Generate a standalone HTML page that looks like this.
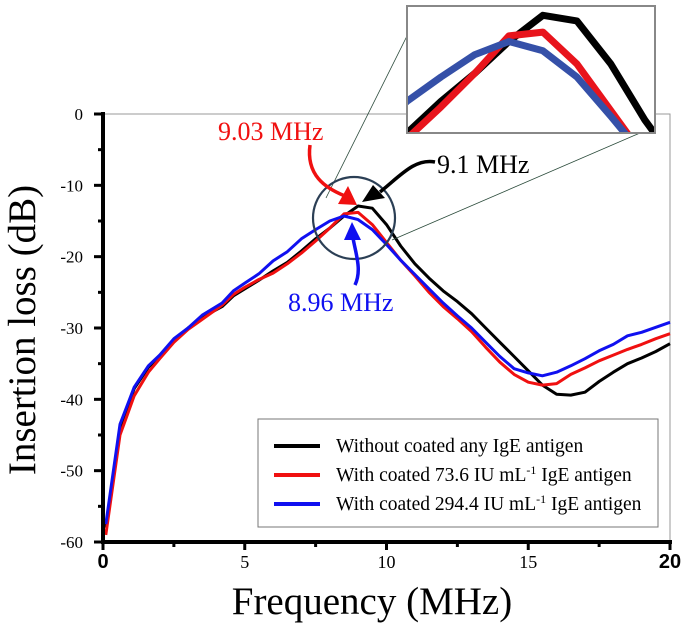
<!DOCTYPE html>
<html><head><meta charset="utf-8"><style>
html,body{margin:0;padding:0;background:#fff;width:688px;height:633px;overflow:hidden}
svg{display:block}
text{font-family:"Liberation Serif",serif}
</style></head><body>
<svg id="c" width="688" height="633" viewBox="0 0 688 633">
<g id="plot"></g>
</svg>
<script>
const freqs=[0.1,0.6,1.1,1.6,2,2.5,3,3.5,4.2,4.6,5,5.5,6,6.5,7,7.5,8,8.5,9,9.5,10,10.5,11,11.5,12,12.5,13,13.5,14,14.5,15,15.5,16,16.5,17,17.5,18,18.5,19,19.5,20];
const blackVals=[-58,-44,-38.5,-35.5,-34,-31.7,-30,-28.5,-27,-25.5,-24.5,-23.3,-22,-20.8,-19.2,-17.5,-16,-14.3,-12.9,-13.2,-15.5,-18.5,-21,-23,-24.8,-26.3,-28,-30,-32,-34,-36,-38,-39.3,-39.4,-39,-37.5,-36.2,-35,-34.2,-33.3,-32.2];
const redVals=[-59,-45,-39.5,-36.2,-34.3,-32,-30.2,-28.8,-26.8,-25.3,-24.3,-23.2,-22.3,-21,-19.5,-17.8,-16,-14,-13.8,-15.5,-18,-20.5,-22.7,-25,-27,-28.7,-30.5,-32.7,-34.8,-36.5,-37.6,-38,-37.8,-36.5,-35.6,-34.6,-33.8,-33,-32.3,-31.5,-30.8];
const blueVals=[-57.5,-43.5,-38.3,-35.3,-33.8,-31.5,-30,-28.2,-26.5,-24.8,-23.7,-22.4,-20.6,-19.3,-17.5,-16.2,-15,-14.3,-14.8,-16.2,-18.3,-20.5,-22.5,-24.5,-26.5,-28.3,-30,-32,-34,-35.7,-36.3,-36.7,-36.2,-35.3,-34.3,-33.2,-32.3,-31.1,-30.6,-29.9,-29.2];
const yTicks=[0,-10,-20,-30,-40,-50,-60];
const xTicks=[0,5,10,15,20];
const legendLabels=["Without coated any IgE antigen","With coated 73.6 IU mL","With coated 294.4 IU mL"];

const NS="http://www.w3.org/2000/svg";
const g=document.getElementById('plot');
const X0=103,X1=670,Y0=114,Y1=542;
const xs=v=>X0+(v/20)*(X1-X0);
const ys=v=>Y0+(-v/60)*(Y1-Y0);
function el(t,a,p){const e=document.createElementNS(NS,t);for(const k in a)e.setAttribute(k,a[k]);(p||g).appendChild(e);return e;}

let e=el('polyline',{points:`${X0},${Y0} ${X1},${Y0} ${X1},${Y1}`,fill:'none',stroke:'#999','stroke-width':1});


function series(vals,color,name,fx,fy,w,parent){
  const pts=freqs.map((f,i)=>fx(f).toFixed(1)+','+fy(vals[i]).toFixed(1)).join(' ');
  const p=el('polyline',{points:pts,fill:'none',stroke:color,'stroke-width':w,'stroke-linejoin':'round'},parent);
  
}
series(blackVals,'#000','series-without-coating',xs,ys,3);
series(redVals,'#f01010','series-73-6',xs,ys,3);
series(blueVals,'#1010f0','series-294-4',xs,ys,3);

e=el('line',{x1:X0,y1:Y0-2,x2:X0,y2:Y1+2,stroke:'#000','stroke-width':4});

e=el('line',{x1:X0-2,y1:Y1,x2:X1+2,y2:Y1,stroke:'#000','stroke-width':4});

for(let v=0;v>=-60;v-=5){const y=ys(v);el('line',{x1:v%10==0?X0-9:X0-5,y1:y,x2:X0,y2:y,stroke:'#000','stroke-width':3});}
for(let v=0;v<=20;v+=2.5){const x=xs(v);el('line',{x1:x,y1:Y1,x2:x,y2:Y1+(v%5==0?8:5),stroke:'#000','stroke-width':3});}
yTicks.forEach(v=>{const t=el('text',{x:X0-20,y:ys(v)+6,'text-anchor':'end','font-size':17});t.textContent=v;
});
xTicks.forEach(v=>{const b=(v==0||v==20);const t=el('text',{x:xs(v),y:Y1+26,'text-anchor':'middle','font-size':b?20:18,'font-weight':b?'bold':'normal',style:b?'font-family:"Liberation Sans",sans-serif':''});t.textContent=v;
});

e=el('text',{x:0,y:0,transform:'translate(35,330) rotate(-90)','text-anchor':'middle','font-size':39});e.textContent='Insertion loss (dB)';

e=el('text',{x:372,y:614,'text-anchor':'middle','font-size':39});e.textContent='Frequency (MHz)';


e=el('rect',{x:258,y:419,width:400,height:108,fill:'#fff',stroke:'#777','stroke-width':1});

const lc=['#000','#f01010','#1010f0'];
legendLabels.forEach((s,i)=>{const y=446+i*29;
 el('line',{x1:274,y1:y,x2:320,y2:y,stroke:lc[i],'stroke-width':4});
 const t=el('text',{x:336,y:y+6,'font-size':19.5});t.textContent=s;
 if(i>0){const sp=el('tspan',{dy:-7,'font-size':12},t);sp.textContent='-1';const s2=el('tspan',{dy:7},t);s2.textContent=' IgE antigen';}
 });

el('line',{x1:407,y1:36,x2:326,y2:198,stroke:'#2a4a3a','stroke-width':0.8});
el('line',{x1:640,y1:133,x2:392,y2:240,stroke:'#2a4a3a','stroke-width':0.8});
e=el('circle',{cx:354,cy:218,r:41,fill:'none',stroke:'#2b3f55','stroke-width':2.2});


const ig=el('g',{});
el('clipPath',{id:'cl'},ig);el('rect',{x:407,y:6,width:248,height:127},document.getElementById('cl'));
const ic=el('g',{'clip-path':'url(#cl)'},ig);
el('rect',{x:407,y:6,width:248,height:127,fill:'#fff'},ic);
const ix=v=>407+(v-7.0)/(10.65-7.0)*248, iy=v=>6+(-12.4-v)/(19.2-12.4)*127;
series(blackVals,'#000','inset-black',ix,iy,7,ic);
series(redVals,'#e8141c','inset-red',ix,iy,7,ic);
series(blueVals,'#3550a8','inset-blue',ix,iy,7,ic);
el('rect',{x:407,y:6,width:248,height:127,fill:'none',stroke:'#888','stroke-width':2},ig);

function ann(txt,x,y,c,name){const t=el('text',{x,y,'font-size':26,fill:c});t.textContent=txt;}
ann('9.03 MHz',218,140,'#f01010','label-9-03');
ann('9.1 MHz',437,173,'#000','label-9-1');
ann('8.96 MHz',288,311,'#1010f0','label-8-96');
el('path',{d:'M310,145 C306,175 325,188 345,196',fill:'none',stroke:'#f01010','stroke-width':3.5});
el('polygon',{points:'357,205 338,204 348,186',fill:'#f01010'});
el('path',{d:'M435,162 C415,158 400,176 380,192',fill:'none',stroke:'#000','stroke-width':3.5});
el('polygon',{points:'362,202 373,185 385,198',fill:'#000'});
el('path',{d:'M355,285 C362,270 356,255 353,238',fill:'none',stroke:'#1010f0','stroke-width':3.5});
el('polygon',{points:'352,222 344,240 361,240',fill:'#1010f0'});
</script>
</body></html>
